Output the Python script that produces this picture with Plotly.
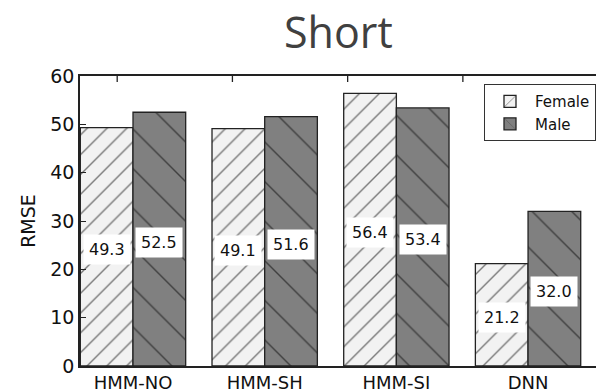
import plotly.graph_objects as go

# ---- data ----
categories = ["HMM-NO", "HMM-SH", "HMM-SI", "DNN"]
female = [49.3, 49.1, 56.4, 21.2]
male = [52.5, 51.6, 53.4, 32.0]
y_ticks = [0, 10, 20, 30, 40, 50, 60]
top_ticks = [-0.12, 0.755, 1.63, 2.505]

FONT = "DejaVu Sans"
idx = list(range(len(categories)))

fig = go.Figure()
fig.add_trace(go.Bar(
    x=idx, y=female, name="Female", width=0.4,
    marker=dict(color="#f2f2f2", line=dict(color="#222222", width=1.3),
                pattern=dict(shape="/", fgcolor="#000000", bgcolor="#f2f2f2",
                             size=14, solidity=0.1)),
))
fig.add_trace(go.Bar(
    x=idx, y=male, name="Male", width=0.4,
    marker=dict(color="#808080", line=dict(color="#222222", width=1.3),
                pattern=dict(shape="\\", fgcolor="#000000", bgcolor="#808080",
                             size=28, solidity=0.05)),
))

# value labels at half height of each bar
for i in idx:
    for off, vals in ((-0.2, female), (0.2, male)):
        fig.add_annotation(
            x=i + off, y=vals[i] / 2, text=f"{vals[i]:.1f}", showarrow=False,
            font=dict(family=FONT, size=16, color="#111111"),
            bgcolor="white", borderpad=5, yshift=-3,
        )

# short tick marks hanging from the top frame
for t in top_ticks:
    fig.add_shape(type="line", xref="x", yref="paper", x0=t, x1=t,
                  y0=1, y1=1 - 6 / 290, line=dict(color="#222222", width=1.3))

# title
fig.add_annotation(
    x=0.5, y=1.152, xref="paper", yref="paper", text="Short", showarrow=False,
    font=dict(family="Open Sans", size=43, color="#404040"),
    xanchor="center", yanchor="middle",
)

fig.update_layout(
    width=596, height=392,
    margin=dict(l=80, r=0, t=76, b=26),
    plot_bgcolor="white", paper_bgcolor="white",
    barmode="group", bargap=0.2, bargroupgap=0,
    showlegend=True,
    legend=dict(x=0.783, y=0.972, xanchor="left", yanchor="top",
                bgcolor="white", bordercolor="#333333", borderwidth=1,
                font=dict(family=FONT, size=15, color="#111111"),
                itemwidth=40, tracegroupgap=0),
    xaxis=dict(range=[-0.4025, 3.516], tickvals=idx, ticktext=categories,
               ticks="", showgrid=False, zeroline=False,
               showline=True, linecolor="#222222", linewidth=1.5, mirror=True,
               tickfont=dict(family=FONT, size=18, color="#111111")),
    yaxis=dict(range=[0, 60], tickvals=y_ticks, ticks="inside", ticklen=6,
               tickcolor="#222222", showgrid=False, zeroline=False,
               showline=True, linecolor="#222222", linewidth=1.5, mirror=False,
               tickfont=dict(family=FONT, size=19, color="#111111"),
               title=dict(text="RMSE", standoff=10,
                          font=dict(family=FONT, size=19, color="#111111"))),
)

fig.write_html("out.html", config={"displayModeBar": False},
               post_script="document.body.style.margin='0';")
